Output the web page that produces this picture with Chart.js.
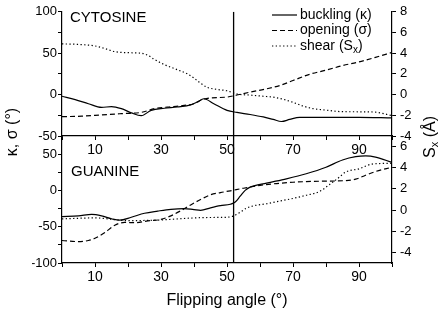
<!DOCTYPE html>
<html>
<head>
<meta charset="utf-8">
<script src="https://cdn.jsdelivr.net/npm/chart.js@4"></script>
<style>
  html, body { margin: 0; padding: 0; background: #fff; }
  #wrap { position: relative; width: 448px; height: 315px; }
  #wrap canvas { position: absolute; left: 0; top: 0; }
</style>
</head>
<body>
<div id="wrap">
  <canvas id="cytosine" width="448" height="315"></canvas>
  <canvas id="guanine" width="448" height="315"></canvas>
</div>
<script>
// Flipping angle where the vertical marker sits
const flipMarker = 52;

// Cytosine panel (top)
const cytBucklingAngle = [0, 4, 8, 12, 15, 18, 21, 24, 27, 31, 35, 39, 41, 43, 46, 50, 53, 57, 61, 64, 66.5, 69, 72, 80, 90, 100];
const cytBuckling = [-2, -6, -11, -15.5, -14.5, -17, -22, -25.5, -19, -16.5, -15, -12.5, -9, -5, -11, -19, -21.5, -24, -27, -30, -32.5, -30, -27.5, -27.5, -27.5, -28.2];
const cytOpeningAngle = [0, 6, 12, 18, 24, 28, 32, 36, 40, 42.5, 45, 50, 53, 57, 62, 66, 70, 75, 80, 85, 90, 95, 100];
const cytOpening = [-26.7, -26, -24.5, -23, -21.5, -17, -15, -13.5, -11, -6, -4, -3, -0.5, 3, 7, 11, 17, 24.5, 29.5, 35, 39.5, 45, 51];
const cytShearAngle = [0, 5, 10, 13, 16, 20, 24, 26, 28, 31, 35, 38, 40, 42, 44, 47, 50, 53, 57, 61, 64, 67, 70, 73, 76, 80, 85, 90, 95, 100];
const cytShear = [4.9, 4.85, 4.7, 4.45, 4.15, 4.05, 4.0, 3.8, 3.4, 2.9, 2.4, 2.0, 1.6, 1.1, 0.7, 0.5, 0.37, 0.06, -0.05, -0.16, -0.25, -0.45, -0.75, -1.1, -1.35, -1.5, -1.65, -1.66, -1.7, -2.03];

// Guanine panel (bottom)
const guaBucklingAngle = [0, 5, 9, 12, 15, 17.5, 21, 25, 29, 33, 37, 40, 42, 45, 48, 51, 52.5, 54, 55.5, 57, 62, 68, 74, 80, 85, 89, 92, 95, 100];
const guaBuckling = [-36, -35, -33, -35, -39, -41, -37, -31.5, -28.5, -26, -25, -26.5, -27.5, -24, -21, -19, -16, -8, 0, 4.5, 10, 16, 23, 32, 42, 46.5, 47.5, 46, 38.6];
const guaOpeningAngle = [0, 5, 8, 10, 13, 16, 19, 22, 26, 30, 33, 36, 39, 42, 45, 48, 51, 55, 60, 65, 70, 78, 86, 89, 92, 95, 100];
const guaOpening = [-69, -70.5, -69, -66, -58, -48, -44, -44.5, -42, -40, -35, -28, -20, -12.5, -6, -3, -0.5, 3, 7, 9.5, 11.3, 12.7, 13.6, 15.5, 21, 26, 32];
const guaShearAngle = [0, 10, 20, 30, 40, 45, 50, 52, 54, 56, 58, 62, 66, 70, 74, 78, 81, 84, 86, 90, 94, 100];
const guaShear = [-0.83, -0.74, -1.0, -0.93, -0.74, -0.7, -0.68, -0.55, -0.2, 0.2, 0.4, 0.6, 0.85, 1.1, 1.4, 1.75, 2.4, 3.1, 3.6, 3.9, 4.35, 4.42];

// Axis ranges and tick values
const angleRange = [0, 100];
const angleTicks = [0, 10, 20, 30, 40, 50, 60, 70, 80, 90, 100];
const angleLabels = [10, 30, 50, 70, 90];
const cytAngleRange = [-50, 100];
const cytAngleTicks = [-50, -25, 0, 25, 50, 75, 100];
const cytShearRange = [-4, 8];
const cytShearTicks = [-4, -2, 0, 2, 4, 6, 8];
const guaAngleRange = [-100, 75];
const guaAngleTicks = [-100, -75, -50, -25, 0, 25, 50, 75];
const guaShearRange = [-5, 7];
const guaShearTicks = [-4, -2, 0, 2, 4, 6];
const degLabels = [-100, -50, 0, 50, 100];

const FONT = '"Liberation Sans", Arial, sans-serif';
const DASH = [5, 3];
const DOT = [1.3, 2.4];

function pts(xs, ys) {
  return xs.map((x, i) => ({ x: x, y: ys[i] }));
}

function series(data, dash, axis) {
  return {
    data: data,
    borderColor: '#000',
    borderWidth: 1.2,
    borderDash: dash,
    pointRadius: 0,
    fill: false,
    cubicInterpolationMode: 'monotone',
    yAxisID: axis
  };
}

function marker(range) {
  return {
    data: [{ x: flipMarker, y: range[0] }, { x: flipMarker, y: range[1] }],
    borderColor: '#000',
    borderWidth: 1.3,
    pointRadius: 0,
    yAxisID: 'y'
  };
}

function axisLook(extra) {
  return Object.assign({
    grid: { drawOnChartArea: false, drawTicks: true, tickLength: 4, color: '#000', lineWidth: 1 },
    border: { display: true, color: '#000', width: 1.2 }
  }, extra);
}

function fixedTicks(values) {
  return s => { s.ticks = values.map(v => ({ value: v })); };
}

function buildScales(leftRange, leftTicks, rightRange, rightTicks, xHeight) {
  return {
    x: axisLook({
      type: 'linear', min: angleRange[0], max: angleRange[1],
      afterBuildTicks: fixedTicks(angleTicks),
      ticks: {
        autoSkip: false, maxRotation: 0, color: '#000', padding: 2,
        font: { family: FONT, size: 14 },
        callback: v => (angleLabels.includes(v) ? v : '')
      },
      afterFit: s => { s.height = xHeight; }
    }),
    y: axisLook({
      type: 'linear', position: 'left', min: leftRange[0], max: leftRange[1],
      afterBuildTicks: fixedTicks(leftTicks),
      ticks: {
        autoSkip: false, color: '#000', padding: 1,
        font: { family: FONT, size: 13 },
        callback: v => (degLabels.includes(v) ? v : '')
      },
      afterFit: s => { s.width = 30; }
    }),
    y1: axisLook({
      type: 'linear', position: 'right', min: rightRange[0], max: rightRange[1],
      afterBuildTicks: fixedTicks(rightTicks),
      ticks: {
        autoSkip: false, color: '#000', padding: 4,
        font: { family: FONT, size: 13 }
      },
      afterFit: s => { s.width = 40; }
    })
  };
}

// Free text: panel names, legend, axis titles
function drawParts(ctx, parts, x, y) {
  let cx = x;
  parts.forEach(p => {
    ctx.font = p.size + 'px ' + FONT;
    ctx.fillText(p.t, cx, y + (p.dy || 0));
    cx += ctx.measureText(p.t).width;
  });
}

const textPlugin = {
  id: 'texts',
  afterDraw(chart) {
    const ctx = chart.ctx;
    ctx.save();
    ctx.fillStyle = '#000';
    ctx.strokeStyle = '#000';
    ctx.textBaseline = 'middle';
    ctx.textAlign = 'left';

    ctx.font = '15px ' + FONT;
    ctx.fillText('CYTOSINE', 70, 18);
    ctx.fillText('GUANINE', 71, 172);

    // legend
    const rows = [
      { dash: [], parts: [{ t: 'buckling (κ)', size: 14 }] },
      { dash: DASH, parts: [{ t: 'opening (σ)', size: 14 }] },
      { dash: DOT, parts: [{ t: 'shear (S', size: 14 }, { t: 'x', size: 10, dy: 4 }, { t: ')', size: 14 }] }
    ];
    rows.forEach((r, i) => {
      const y = 15 + i * 15.5;
      ctx.lineWidth = 1.2;
      ctx.setLineDash(r.dash);
      ctx.beginPath();
      ctx.moveTo(272, y);
      ctx.lineTo(297, y);
      ctx.stroke();
      ctx.setLineDash([]);
      drawParts(ctx, r.parts, 300, y);
    });

    // x title
    ctx.textAlign = 'center';
    ctx.font = '16px ' + FONT;
    ctx.fillText('Flipping angle (°)', 227, 301);

    // left title
    ctx.save();
    ctx.translate(13, 132);
    ctx.rotate(-Math.PI / 2);
    ctx.fillText('κ, σ (°)', 0, 0);
    ctx.restore();

    // right title
    ctx.save();
    ctx.translate(431, 137);
    ctx.rotate(-Math.PI / 2);
    ctx.textAlign = 'left';
    const parts = [{ t: 'S', size: 16 }, { t: 'x', size: 11, dy: 4 }, { t: ' (Å)', size: 16 }];
    let w = 0;
    parts.forEach(p => { ctx.font = p.size + 'px ' + FONT; w += ctx.measureText(p.t).width; });
    drawParts(ctx, parts, -w / 2, 0);
    ctx.restore();

    ctx.restore();
  }
};

const common = {
  responsive: false,
  animation: false,
  devicePixelRatio: 1,
  plugins: { legend: { display: false }, tooltip: { enabled: false } }
};

new Chart(document.getElementById('cytosine'), {
  type: 'line',
  data: {
    datasets: [
      series(pts(cytBucklingAngle, cytBuckling), [], 'y'),
      series(pts(cytOpeningAngle, cytOpening), DASH, 'y'),
      series(pts(cytShearAngle, cytShear), DOT, 'y1'),
      marker(cytAngleRange)
    ]
  },
  options: Object.assign({}, common, {
    layout: { padding: { left: 32, right: 16, top: 8, bottom: 149 } },
    scales: buildScales(cytAngleRange, cytAngleTicks, cytShearRange, cytShearTicks, 30)
  })
});

new Chart(document.getElementById('guanine'), {
  type: 'line',
  data: {
    datasets: [
      series(pts(guaBucklingAngle, guaBuckling), [], 'y'),
      series(pts(guaOpeningAngle, guaOpening), DASH, 'y'),
      series(pts(guaShearAngle, guaShear), DOT, 'y1'),
      marker(guaAngleRange)
    ]
  },
  options: Object.assign({}, common, {
    layout: { padding: { left: 32, right: 16, top: 136, bottom: 0 } },
    scales: buildScales(guaAngleRange, guaAngleTicks, guaShearRange, guaShearTicks, 52)
  }),
  plugins: [textPlugin]
});
</script>
</body>
</html>
